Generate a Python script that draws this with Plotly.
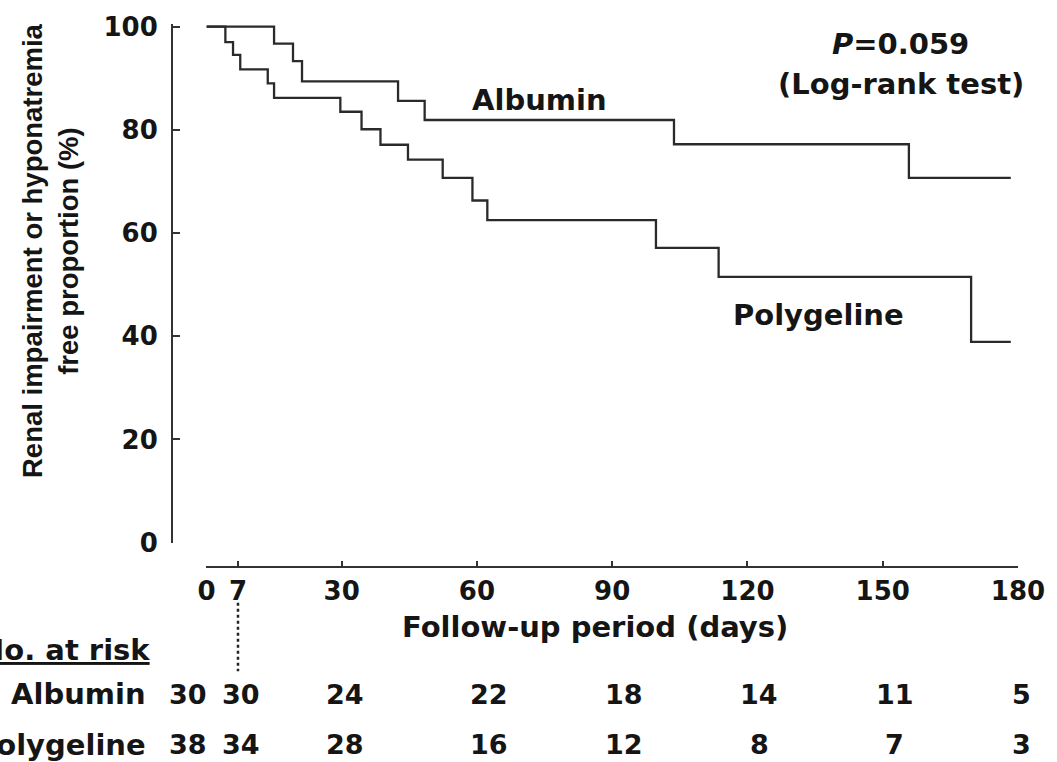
import plotly.graph_objects as go

# ---- data ----
alb_days = [0, 15.0, 19.2, 21.2, 42.5, 48.4, 103.7, 155.8, 178.4]
alb_surv = [100, 96.7, 93.3, 89.4, 85.6, 81.9, 77.2, 70.7, 70.7]

pol_days = [0, 4.2, 5.9, 7.5, 13.6, 15.0, 29.7, 34.4, 38.6, 44.7, 52.4, 59.0, 62.3, 99.7, 113.6, 169.6, 178.4]
pol_surv = [100, 97.0, 94.5, 91.7, 89.0, 86.2, 83.5, 80.1, 77.1, 74.2, 70.7, 66.3, 62.5, 57.1, 51.5, 38.9, 38.9]

x_ticks = [0, 7, 30, 60, 90, 120, 150, 180]
y_ticks = [0, 20, 40, 60, 80, 100]

risk_times = [0, 7, 30, 60, 90, 120, 150, 180]
risk_albumin = [30, 30, 24, 22, 18, 14, 11, 5]
risk_polygeline = [38, 34, 28, 16, 12, 8, 7, 3]

INK = "#151515"
HF = "DejaVu Sans"
VF = "Liberation Sans"

fig = go.Figure()
for d, s, name in [(alb_days, alb_surv, "Albumin"), (pol_days, pol_surv, "Polygeline")]:
    fig.add_trace(go.Scatter(x=d, y=s, mode="lines", name=name,
                             line=dict(shape="hv", color="#2a2a2a", width=2.3),
                             showlegend=False, hoverinfo="skip"))

tickfont = dict(family=HF, size=26, color=INK, weight="bold")

fig.update_layout(
    width=1057, height=762,
    margin=dict(l=172, r=32, t=21, b=195),
    paper_bgcolor="white", plot_bgcolor="white",
    xaxis=dict(domain=[0.0407, 1], range=[0, 180], anchor="free", position=0,
               showline=True, linewidth=2, linecolor="#333",
               ticks="inside", ticklen=5, tickwidth=2, tickcolor="#333",
               tickvals=x_ticks, ticktext=[str(v) for v in x_ticks],
               tickfont=tickfont, ticklabelstandoff=1,
               showgrid=False, zeroline=False),
    yaxis=dict(domain=[0.0449, 1], range=[0, 100.5], anchor="free", position=0,
               showline=True, linewidth=2, linecolor="#333",
               ticks="inside", ticklen=7, tickwidth=2, tickcolor="#333",
               tickvals=y_ticks, ticktext=[str(v) for v in y_ticks],
               tickfont=tickfont, ticklabelstandoff=8,
               showgrid=False, zeroline=False),
)

def note(text, x, y, size=29, xref="x", yref="y", xanchor="center", family=HF, **kw):
    fig.add_annotation(text=text, x=x, y=y, xref=xref, yref=yref, xanchor=xanchor,
                       yanchor="middle", showarrow=False,
                       font=dict(family=family, size=size, color=INK, weight="bold"),
                       **kw)

# curve labels and p-value
note("Albumin", 73.8, 85.7)
note("Polygeline", 135.8, 44.1)
note("<i>P</i>=0.059", 154.0, 96.6)
note("(Log-rank test)", 154.0, 88.9)

# axis titles
note("Follow-up period (days)", 0.5, -0.11, xref="paper", yref="paper")
fig.add_annotation(text="Renal impairment or hyponatremia<br>free proportion (%)",
                   x=-0.143, y=0.582, xref="paper", yref="paper", textangle=-90,
                   showarrow=False, xanchor="center", yanchor="middle",
                   font=dict(family=VF, size=27.5, color=INK, weight="bold"))

# number at risk table
fig.add_annotation(text="No. at risk", x=-0.0235, y=-0.152, xref="paper", yref="paper",
                   xanchor="right", yanchor="middle", showarrow=False,
                   font=dict(family=HF, size=29, color=INK, weight="bold", lineposition="under"))
row_y = {"Albumin": -0.2344, "Polygeline": -0.3278}
for name, vals in [("Albumin", risk_albumin), ("Polygeline", risk_polygeline)]:
    note(name, -0.0281, row_y[name], xref="paper", yref="paper", xanchor="right")
    for t, v in zip(risk_times, vals):
        shift = -18 if t == 0 else (12 if 30 < t < 180 else 3)
        fig.add_annotation(text=str(v), x=t, y=row_y[name], xref="x", yref="paper",
                           xanchor="center", yanchor="middle", showarrow=False, xshift=shift,
                           font=dict(family=HF, size=27, color=INK, weight="bold"))

# dotted guide at day 7
fig.add_shape(type="line", x0=7, x1=7, y0=-0.066, y1=-0.192, xref="x", yref="paper",
              line=dict(color="#222", width=2.5, dash="dot"))

fig.write_html("out.html")
